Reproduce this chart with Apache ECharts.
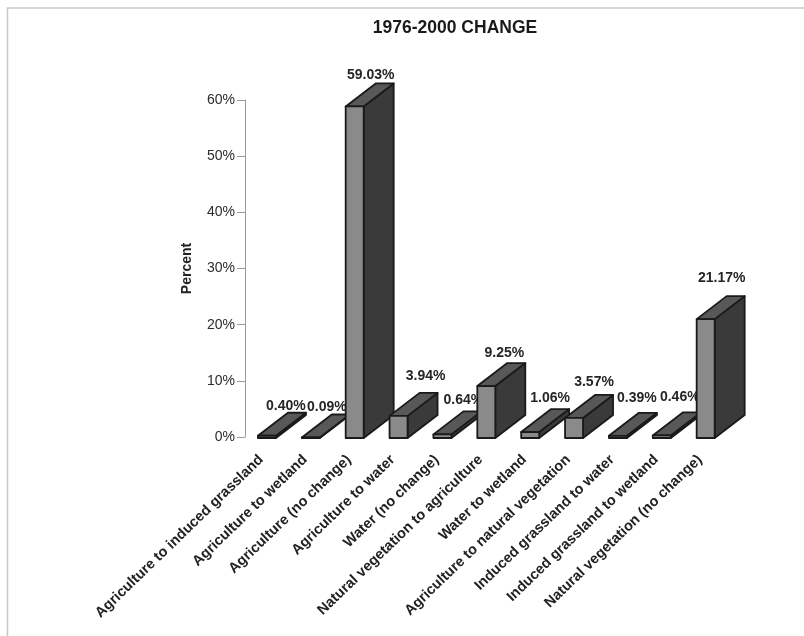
<!DOCTYPE html>
<html>
<head>
<meta charset="utf-8">
<style>html,body{margin:0;padding:0;background:#fff}#chart{width:804px;height:636px}</style>
<script src="https://cdn.jsdelivr.net/npm/echarts@6/dist/echarts.min.js"></script>
</head>
<body>
<div id="chart"></div>
<script>
const categories = [
  'Agriculture to induced grassland', 'Agriculture to wetland', 'Agriculture (no change)',
  'Agriculture to water', 'Water (no change)', 'Natural vegetation to agriculture',
  'Water to wetland', 'Agriculture to natural vegetation', 'Induced grassland to water',
  'Induced grassland to wetland', 'Natural vegetation (no change)'
];
const percentValues = [0.40, 0.09, 59.03, 3.94, 0.64, 9.25, 1.06, 3.57, 0.39, 0.46, 21.17];
const yTicks = [0, 10, 20, 30, 40, 50, 60];

// Label placement relative to the centre of each block's front face, in pixels.
const labelShiftX = [19, 16, 16, 27, 21, 18, 20, 20, 19, 18, 16];
const labelGapY = [8, 8, 9, 18, 12, 11, 12, 14, 16, 16, 19];

const FONT = '"Liberation Sans", Arial, sans-serif';
const DEPTH_X = 30, DEPTH_Y = 23, FRONT_W = 18, FLOOR_DROP = 1;
const EDGE = { stroke: '#1a1a1a', lineWidth: 1.8, lineJoin: 'round' };

// Draws one extruded block: side, top and front faces, then its value label.
function renderBlock(params, api) {
  const i = api.value(0);
  const value = api.value(1);
  const base = api.coord([i, 0]);
  const top = api.coord([i, value]);
  const l = base[0] - FRONT_W / 2, r = base[0] + FRONT_W / 2;
  const yb = base[1] + FLOOR_DROP, yt = top[1] + FLOOR_DROP;
  const face = (pts, fill) => ({
    type: 'polygon', shape: { points: pts }, style: Object.assign({ fill }, EDGE)
  });
  return {
    type: 'group',
    children: [
      face([[r, yb], [r + DEPTH_X, yb - DEPTH_Y], [r + DEPTH_X, yt - DEPTH_Y], [r, yt]], '#3a3a3a'),
      face([[l, yt], [l + DEPTH_X, yt - DEPTH_Y], [r + DEPTH_X, yt - DEPTH_Y], [r, yt]], '#585858'),
      face([[l, yb], [r, yb], [r, yt], [l, yt]], '#8a8a8a'),
      {
        type: 'text',
        style: {
          x: base[0] + labelShiftX[i],
          y: yt - DEPTH_Y - labelGapY[i] + 1,
          text: value.toFixed(2) + '%',
          font: 'bold 14px ' + FONT,
          fill: '#262626',
          align: 'center',
          verticalAlign: 'middle'
        }
      }
    ]
  };
}

const chart = echarts.init(document.getElementById('chart'), null, { renderer: 'canvas' });
chart.setOption({
  animation: false,
  backgroundColor: '#fff',
  title: {
    text: '1976-2000 CHANGE',
    left: 450, top: 14, textAlign: 'center',
    textStyle: { fontFamily: FONT, fontSize: 17.5, fontWeight: 'bold', color: '#1a1a1a' }
  },
  graphic: [{
    type: 'polyline',
    shape: { points: [[7.5, 636], [7.5, 8], [804, 8]] },
    style: { stroke: '#c8c8c8', lineWidth: 1.5, fill: null }
  }],
  grid: { left: 245, top: 100, width: 482.6, height: 337, containLabel: false },
  xAxis: {
    type: 'category',
    data: categories,
    axisLine: { show: false },
    axisTick: { show: false },
    axisLabel: {
      interval: 0, rotate: 44, margin: 15, padding: [0, 8, 0, 0],
      fontFamily: FONT, fontSize: 14.5, fontWeight: 'bold', color: '#222'
    }
  },
  yAxis: {
    type: 'value',
    min: yTicks[0], max: yTicks[yTicks.length - 1], interval: 10,
    name: 'Percent',
    nameLocation: 'middle',
    nameGap: 51,
    nameRotate: 90,
    nameTextStyle: { fontFamily: FONT, fontSize: 14, fontWeight: 'bold', color: '#222' },
    axisLine: { show: true, lineStyle: { color: '#9a9a9a', width: 1 } },
    axisTick: { show: true, length: 8, inside: false, lineStyle: { color: '#9a9a9a', width: 1 } },
    splitLine: { show: false },
    axisLabel: {
      margin: 10,
      formatter: '{value}%',
      fontFamily: FONT, fontSize: 14, color: '#2b2b2b'
    }
  },
  series: [{
    type: 'custom',
    coordinateSystem: 'cartesian2d',
    clip: false,
    renderItem: renderBlock,
    encode: { x: 0, y: 1 },
    data: percentValues.map((v, i) => [i, v])
  }]
});
</script>
</body>
</html>
